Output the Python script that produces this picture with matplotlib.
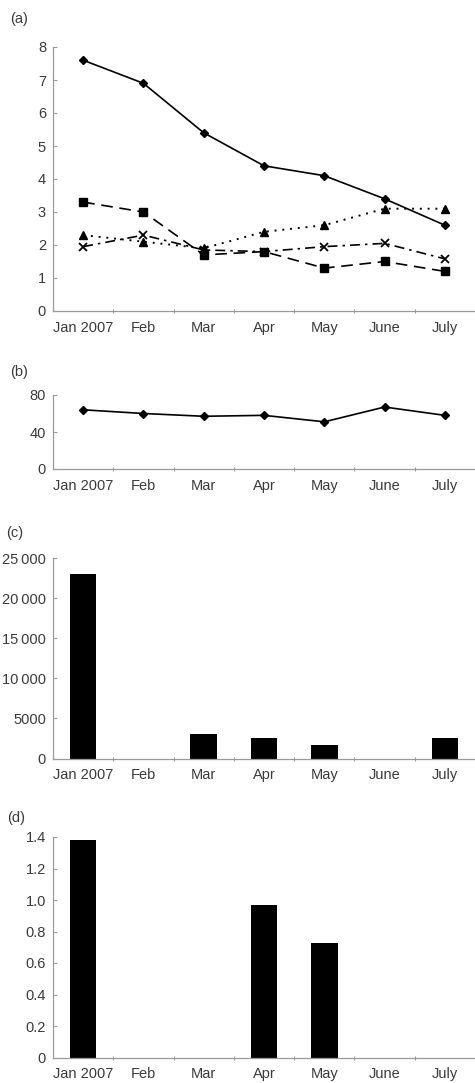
import numpy as np
import matplotlib.pyplot as plt

plt.rcParams['font.family'] = ['Liberation Sans', 'DejaVu Sans']

months = ['Jan 2007', 'Feb', 'Mar', 'Apr', 'May', 'June', 'July']

# panel (a) - four series
a_diamond = [7.6, 6.9, 5.4, 4.4, 4.1, 3.4, 2.6]
a_square = [3.3, 3.0, 1.7, 1.8, 1.3, 1.5, 1.2]
a_triangle = [2.3, 2.1, 1.9, 2.4, 2.6, 3.1, 3.1]
a_cross = [1.95, 2.3, 1.85, 1.8, 1.95, 2.05, 1.58]

# panel (b)
b_values = [64, 60, 57, 58, 51, 67, 58]

# panel (c)
c_values = [23000, 0, 3000, 2600, 1650, 0, 2600]
c_ticks = [0, 5000, 10000, 15000, 20000, 25000]
c_labels = ['0', '5000', '10\u2009000', '15\u2009000', '20\u2009000', '25\u2009000']

# panel (d)
d_values = [1.38, 0, 0, 0.97, 0.73, 0, 0]
d_ticks = [0, 0.2, 0.4, 0.6, 0.8, 1.0, 1.2, 1.4]
d_labels = ['0', '0.2', '0.4', '0.6', '0.8', '1.0', '1.2', '1.4']

W, H = 475, 1083
fig = plt.figure(figsize=(W / 100, H / 100), dpi=100)
TXT = '#3a3a3a'
AXC = '#9a9a9a'
FS = 10.5


def ax_px(l, t, r, b):
    return fig.add_axes([l / W, 1 - b / H, (r - l) / W, (b - t) / H])


def style(ax):
    x = np.arange(len(months))
    ax.set_xlim(-0.5, len(months) - 0.5)
    ax.set_xticks(x)
    ax.set_xticklabels(months)
    ax.set_xticks(np.arange(0.5, len(months) - 0.5), minor=True)
    ax.tick_params(axis='x', which='major', length=0, pad=7,
                   labelsize=FS, labelcolor=TXT)
    ax.tick_params(axis='x', which='minor', length=3, direction='inout',
                   color=AXC, width=0.8)
    ax.tick_params(axis='y', length=3, direction='in', color=AXC, width=0.8,
                   labelsize=FS, labelcolor=TXT, pad=5)
    for s in ['top', 'right']:
        ax.spines[s].set_visible(False)
    for s in ['left', 'bottom']:
        ax.spines[s].set_color(AXC)
        ax.spines[s].set_linewidth(0.9)
    ax.set_facecolor('none')


x = np.arange(len(months))

# (a)
ax = ax_px(53, 47, 475, 311)
style(ax)
ax.plot(x, a_diamond, color='black', lw=1.2, marker='D', ms=4.5)
ax.plot(x, a_square, color='black', lw=1.2, marker='s', ms=6,
        dashes=(7, 4))
ax.plot(x, a_triangle, color='black', lw=1.4, marker='^', ms=6,
        dashes=(1, 3))
ax.plot(x, a_cross, color='black', lw=1.2, marker='x', ms=6, mew=1.3,
        dashes=(6, 3, 1.5, 3))
ax.set_ylim(0, 8)
ax.set_yticks(range(0, 9))
fig.text(10 / W, 1 - 19 / H, '(a)', fontsize=FS, color=TXT, va='center')

# (b)
ax = ax_px(53, 395, 475, 469)
style(ax)
ax.plot(x, b_values, color='black', lw=1.2, marker='D', ms=4.5)
ax.set_ylim(0, 80)
ax.set_yticks([0, 40, 80])
fig.text(10 / W, 1 - 372 / H, '(b)', fontsize=FS, color=TXT, va='center')

# (c)
ax = ax_px(53, 558, 475, 758.5)
style(ax)
ax.bar(x, c_values, width=0.44, color='black')
ax.set_ylim(0, 25000)
ax.set_yticks(c_ticks)
ax.set_yticklabels(c_labels)
fig.text(6 / W, 1 - 533 / H, '(c)', fontsize=FS, color=TXT, va='center')

# (d)
ax = ax_px(53, 837, 475, 1057.5)
style(ax)
ax.bar(x, d_values, width=0.44, color='black')
ax.set_ylim(0, 1.4)
ax.set_yticks(d_ticks)
ax.set_yticklabels(d_labels)
fig.text(7 / W, 1 - 818 / H, '(d)', fontsize=FS, color=TXT, va='center')

fig.savefig('out.png', dpi=100)
